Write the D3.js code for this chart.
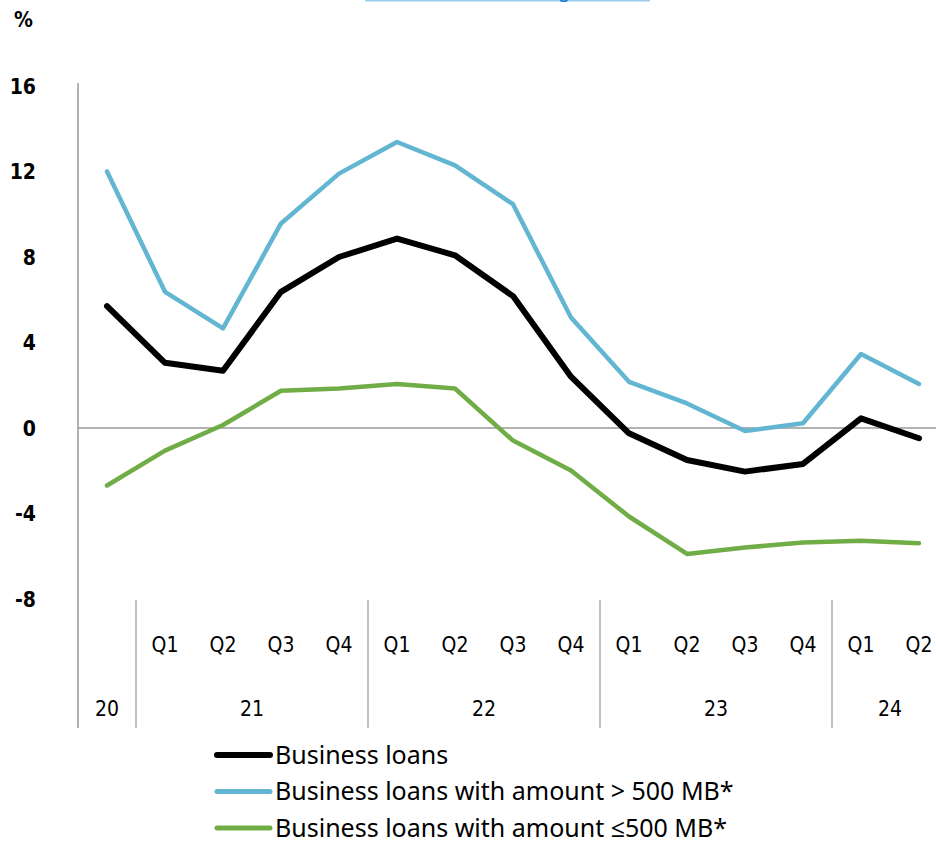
<!DOCTYPE html>
<html>
<head>
<meta charset="utf-8">
<script src="https://cdn.jsdelivr.net/npm/d3@7/dist/d3.min.js"></script>
<style>
  html, body { margin: 0; padding: 0; background: #fff; }
  svg { display: block; }
  text { font-family: "Liberation Sans Narrow", "DejaVu Sans Condensed", "Liberation Sans", sans-serif; fill: #000; }
  .legend text { font-family: "Noto Sans", "Open Sans", sans-serif; }
</style>
</head>
<body>
<svg id="chart" width="936" height="841"></svg>
<script>
// Quarter categories and their year groups
const quarters = ["", "Q1", "Q2", "Q3", "Q4", "Q1", "Q2", "Q3", "Q4", "Q1", "Q2", "Q3", "Q4", "Q1", "Q2"];
const years = [
  { label: "20", span: 1 },
  { label: "21", span: 4 },
  { label: "22", span: 4 },
  { label: "23", span: 4 },
  { label: "24", span: 2 }
];

// Growth rates (%)
const businessLoans = [5.7, 3.05, 2.68, 6.37, 8.0, 8.86, 8.08, 6.17, 2.4, -0.25, -1.5, -2.04, -1.68, 0.45, -0.48];
const largeLoans = [12.0, 6.37, 4.66, 9.57, 11.9, 13.38, 12.29, 10.47, 5.17, 2.16, 1.15, -0.14, 0.22, 3.46, 2.06];
const smallLoans = [-2.69, -1.06, 0.14, 1.74, 1.85, 2.06, 1.85, -0.59, -1.99, -4.14, -5.89, -5.59, -5.36, -5.27, -5.39];

const yTicks = [16, 12, 8, 4, 0, -4, -8];

const seriesNames = [
  "Business loans",
  "Business loans with amount > 500 MB*",
  "Business loans with amount \u2264500 MB*"
];

const svg = d3.select("#chart");

const left = 78;
const step = 58;
const idx = d3.range(quarters.length);

const x = d3.scaleBand()
  .domain(idx)
  .range([left, left + step * quarters.length])
  .paddingInner(0).paddingOuter(0);

const y = d3.scaleLinear().domain([-8, 16]).range([599, 86]);

const cx = i => x(i) + x.bandwidth() / 2;

// Partial heading strip at the very top
svg.append("line")
  .attr("x1", 365).attr("x2", 650).attr("y1", 0.5).attr("y2", 0.5)
  .attr("stroke", "#9ccfee").attr("stroke-width", 2);
svg.append("text")
  .attr("x", 558).attr("y", -3)
  .style("font-family", "'Noto Sans', sans-serif")
  .style("font-size", "20px")
  .style("fill", "#1479c9")
  .text("g");

// Unit label
svg.append("text")
  .attr("x", 14).attr("y", 27)
  .style("font-size", "21px").style("font-weight", "bold")
  .text("%");

// Y axis tick labels (plain hyphen for negatives)
const yAxis = d3.axisLeft(y).tickValues(yTicks).tickSize(0).tickPadding(0).tickFormat(d => String(d));
const yg = svg.append("g").attr("transform", "translate(36,0)").call(yAxis);
yg.select(".domain").remove();
yg.selectAll("text")
  .attr("dy", "0.35em")
  .style("font-size", "21px")
  .style("font-weight", "bold")
  .style("font-family", "'Liberation Sans Narrow', 'DejaVu Sans Condensed', sans-serif")
  .attr("fill", "#000");

// Vertical axis line
svg.append("line")
  .attr("x1", left).attr("x2", left)
  .attr("y1", 83).attr("y2", 728)
  .attr("stroke", "#999").attr("stroke-width", 1.5);

// Zero line
svg.append("line")
  .attr("x1", left).attr("x2", 936)
  .attr("y1", y(0)).attr("y2", y(0))
  .attr("stroke", "#999").attr("stroke-width", 1.5);

// Category axis: quarter labels
const xAxis = d3.axisBottom(x).tickSize(0).tickPadding(0).tickFormat(i => quarters[i]);
const xg = svg.append("g").attr("transform", "translate(0,645)").call(xAxis);
xg.select(".domain").remove();
xg.selectAll("text")
  .attr("dy", "0.35em").attr("y", 0)
  .style("font-size", "21px")
  .style("font-family", "'Liberation Sans Narrow', 'DejaVu Sans Condensed', sans-serif")
  .attr("fill", "#000");

// Year groups with separators
let start = 0;
years.forEach((yr, k) => {
  const x0 = x(start);
  const x1 = x(start + yr.span - 1) + x.bandwidth();
  if (k > 0) {
    svg.append("line")
      .attr("x1", x0).attr("x2", x0)
      .attr("y1", 600).attr("y2", 728)
      .attr("stroke", "#999").attr("stroke-width", 1.2);
  }
  svg.append("text")
    .attr("x", (x0 + x1) / 2).attr("y", 709)
    .attr("text-anchor", "middle").attr("dy", "0.35em")
    .style("font-size", "21px")
    .text(yr.label);
  start += yr.span;
});

// Series lines
const series = [
  { values: smallLoans, color: "#70ad47", width: 4.5 },
  { values: largeLoans, color: "#62b6d1", width: 4.5 },
  { values: businessLoans, color: "#000000", width: 6 }
];
const line = d3.line().x((d, i) => cx(i)).y(d => y(d));
series.forEach(s => {
  svg.append("path")
    .datum(s.values)
    .attr("d", line)
    .attr("fill", "none")
    .attr("stroke", s.color)
    .attr("stroke-width", s.width)
    .attr("stroke-linejoin", "round")
    .attr("stroke-linecap", "round");
});

// Legend
const legendItems = [
  { name: seriesNames[0], color: "#000000", width: 6 },
  { name: seriesNames[1], color: "#62b6d1", width: 5 },
  { name: seriesNames[2], color: "#70ad47", width: 5 }
];
const lg = svg.append("g").attr("class", "legend");
legendItems.forEach((d, i) => {
  const ly = 755 + i * 36.5;
  lg.append("line")
    .attr("x1", 217).attr("x2", 270)
    .attr("y1", ly).attr("y2", ly)
    .attr("stroke", d.color).attr("stroke-width", d.width)
    .attr("stroke-linecap", "round");
  lg.append("text")
    .attr("x", 275).attr("y", ly).attr("dy", "0.35em")
    .style("font-size", "25px")
    .text(d.name);
});
</script>
</body>
</html>
